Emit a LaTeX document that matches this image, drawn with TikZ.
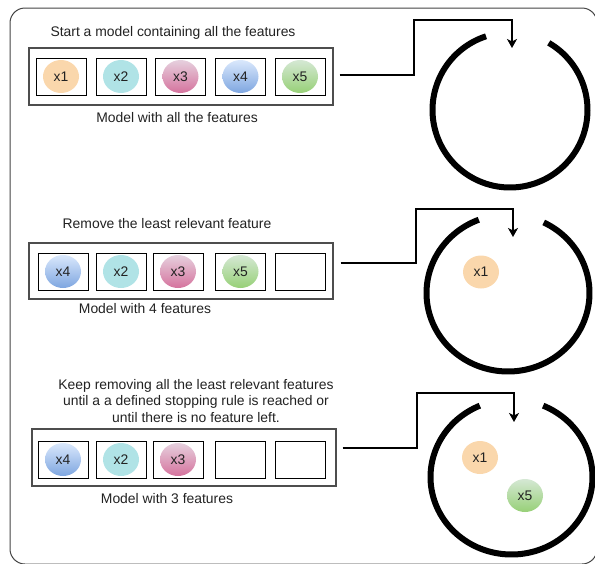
\documentclass[tikz,border=0pt]{standalone}
\usepackage{fontspec}
\setmainfont{Liberation Sans}
\usetikzlibrary{shapes.geometric,arrows.meta}
\definecolor{txt}{HTML}{222222}
\definecolor{boxgray}{HTML}{4D4D4D}
\definecolor{framegray}{HTML}{444444}
\definecolor{fone}{HTML}{FAD7AC}
\definecolor{ftwo}{HTML}{B0E3E6}
\definecolor{fthreeT}{HTML}{E6D0DE}
\definecolor{fthreeB}{HTML}{D5739D}
\definecolor{ffourT}{HTML}{DAE8FC}
\definecolor{ffourB}{HTML}{7EA6E0}
\definecolor{ffiveT}{HTML}{D5E8D4}
\definecolor{ffiveB}{HTML}{97D077}
\begin{document}
\begin{tikzpicture}[x=1pt,y=-1pt,
  every node/.style={font=\fontsize{13.9}{16.5}\selectfont, text=txt},
  slot/.style={draw=black, line width=1pt, minimum width=50pt, minimum height=37pt, inner sep=0pt},
  outerbox/.style={draw=boxgray, line width=1.3pt, minimum width=304pt, minimum height=57pt, inner sep=0pt},
  feat/.style={ellipse, minimum width=36pt, minimum height=33pt, inner sep=0pt},
  fx1/.style={feat, fill=fone},
  fx2/.style={feat, fill=ftwo},
  fx3/.style={feat, top color=fthreeT, bottom color=fthreeB},
  fx4/.style={feat, top color=ffourT, bottom color=ffourB},
  fx5/.style={feat, top color=ffiveT, bottom color=ffiveB},
  ring/.style={line width=6pt, line cap=butt},
  conn/.style={line width=1.5pt, -{Stealth[length=9pt,width=10pt,inset=2.5pt]}},
  frame/.style={draw=framegray, line width=1pt, rounded corners=15pt}
]
\useasboundingbox (0,0) rectangle (595,563);
\draw[frame] (10,8) rectangle (597,564);

% ---------- Row 1 ----------
\node (t1) at (173,33) {Start a model containing all the features};
\node[outerbox] (o1) at (181,76.5) {};
\node[slot] (b11) at (61,76.5) {};
\node[slot] (b12) at (121,76.5) {};
\node[slot] (b13) at (180.5,76.5) {};
\node[slot] (b14) at (240.5,76.5) {};
\node[slot] (b15) at (300,76.5) {};
\node[fx1] (f11) at (b11) {x1};
\node[fx2] (f12) at (b12) {x2};
\node[fx3] (f13) at (b13) {x3};
\node[fx4] (f14) at (b14) {x4};
\node[fx5] (f15) at (b15) {x5};
\node (l1) at (177,118) {Model with all the features};
\draw[ring] plot[domain=-60:252, samples=120] ({510+77.5*cos(\x)},{110+77.5*sin(\x)});
\coordinate (k1) at (414,20);
\coordinate (tp1) at (512,48);
\draw[conn] ([xshift=6pt,yshift=1.5pt]o1.east) -| (k1) -| (tp1);

% ---------- Row 2 ----------
\node (t2) at (167,224) {Remove the least relevant feature};
\node[outerbox, minimum height=56pt] (o2) at (181,271) {};
\node[slot] (b21) at (63,271.5) {};
\node[slot] (b22) at (121,271.5) {};
\node[slot] (b23) at (178,271.5) {};
\node[slot] (b24) at (240.5,271.5) {};
\node[slot] (b25) at (300,271.5) {};
\node[fx4] (f21) at (b21) {x4};
\node[fx2] (f22) at (b22) {x2};
\node[fx3] (f23) at (b23) {x3};
\node[fx5] (f24) at (b24) {x5};
\node (l2) at (145,309) {Model with 4 features};
\draw[ring] plot[domain=-64:249, samples=120] ({508+81.5*cos(\x)},{293+78.5*sin(\x)});
\node[fx1] (r21) at (481,272) {x1};
\coordinate (k2) at (416,209);
\coordinate (tp2) at (513,237);
\draw[conn] ([xshift=7pt,yshift=8pt]o2.east) -| (k2) -| (tp2);

% ---------- Row 3 ----------
\node[align=center] (t3) at (196,401) {Keep removing all the least relevant features\\until a a defined stopping rule is reached or\\until there is no feature left.};
\node[outerbox] (o3) at (184,457.5) {};
\node[slot] (b31) at (63,459.5) {};
\node[slot] (b32) at (121,459.5) {};
\node[slot] (b33) at (178,459.5) {};
\node[slot] (b34) at (240.5,459.5) {};
\node[slot] (b35) at (300,459.5) {};
\node[fx4] (f31) at (b31) {x4};
\node[fx2] (f32) at (b32) {x2};
\node[fx3] (f33) at (b33) {x3};
\node (l3) at (167,499) {Model with 3 features};
\draw[ring] plot[domain=-67:247, samples=120] ({511.5+81*cos(\x)},{477+77.5*sin(\x)});
\node[fx1] (r31) at (480,457.5) {x1};
\node[fx5] (r35) at (525,495.5) {x5};
\coordinate (k3) at (417,393);
\coordinate (tp3) at (514,422);
\draw[conn] ([xshift=6pt,yshift=9.5pt]o3.east) -| (k3) -| (tp3);
\end{tikzpicture}
\end{document}
